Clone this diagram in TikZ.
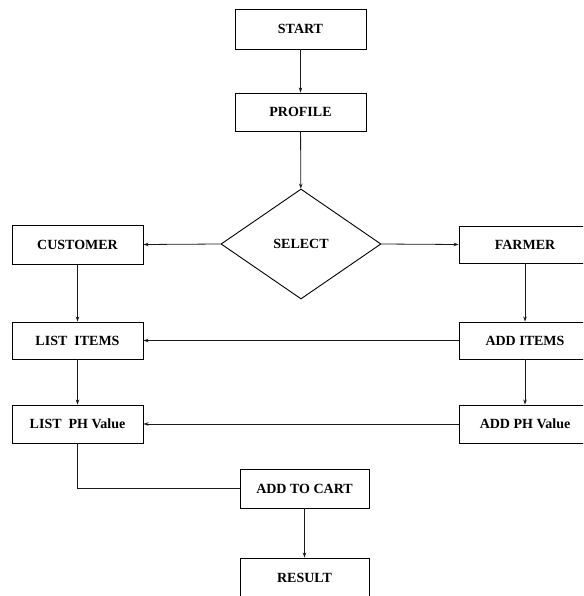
\documentclass[tikz,border=0pt]{standalone}
\usepackage{fontspec}
\setmainfont{Liberation Serif}
\usetikzlibrary{shapes.geometric,arrows.meta}
\begin{document}
\begin{tikzpicture}[x=1pt,y=-1pt,
  box/.style={draw=black,line width=0.9pt,rectangle,inner sep=0pt,
    minimum width=131pt,minimum height=38pt,
    font=\fontsize{14}{16}\selectfont\bfseries},
  dec/.style={draw=black,line width=0.9pt,diamond,inner sep=0pt,
    minimum width=160pt,minimum height=110pt,
    font=\fontsize{14}{16}\selectfont\bfseries},
  conn/.style={draw=black!90,line width=0.8pt},
  arr/.style={conn,-{Stealth[length=5pt,width=3.5pt]}}]
\useasboundingbox (0,0) rectangle (583,596);
\clip (0,0) rectangle (583,596);
\node[box,minimum height=40pt] (start) at (300.5,29) {START};
\node[box] (profile) at (300.5,112) {PROFILE};
\node[dec] (select) at (301,244) {SELECT};
\node[box,minimum height=39pt] (customer) at (77.5,244.5) {CUSTOMER};
\node[box,minimum width=132pt,minimum height=37pt] (farmer) at (525,244.5) {FARMER};
\node[box,minimum height=37pt] (listitems) at (77.5,340.5) {LIST~~ITEMS};
\node[box,minimum width=132pt,minimum height=37pt] (additems) at (525,340.5) {ADD ITEMS};
\node[box] (listph) at (77.5,424) {LIST~~PH Value};
\node[box,minimum width=132pt] (addph) at (525,424) {ADD PH Value};
\node[box,minimum width=129pt,minimum height=39pt] (addcart) at (304.5,488.5) {ADD TO CART};
\node[box,minimum width=129pt,minimum height=40pt] (result) at (304.5,578) {RESULT};
\draw[arr] (start) -- (profile);
\draw[arr] (profile) -- (select);
\draw[arr] (select.west) -- (customer.east);
\draw[arr] (select.east) -- (farmer.west);
\draw[arr] (customer) -- (listitems);
\draw[arr] (listitems) -- (listph);
\draw[arr] (farmer) -- (additems);
\draw[arr] (additems) -- (addph);
\draw[arr] (additems.west) -- (listitems.east);
\draw[arr] (addph.west) -- (listph.east);
\draw[conn] (listph.south) |- (addcart.west);
\draw[arr] (addcart) -- (result);
\end{tikzpicture}
\end{document}
